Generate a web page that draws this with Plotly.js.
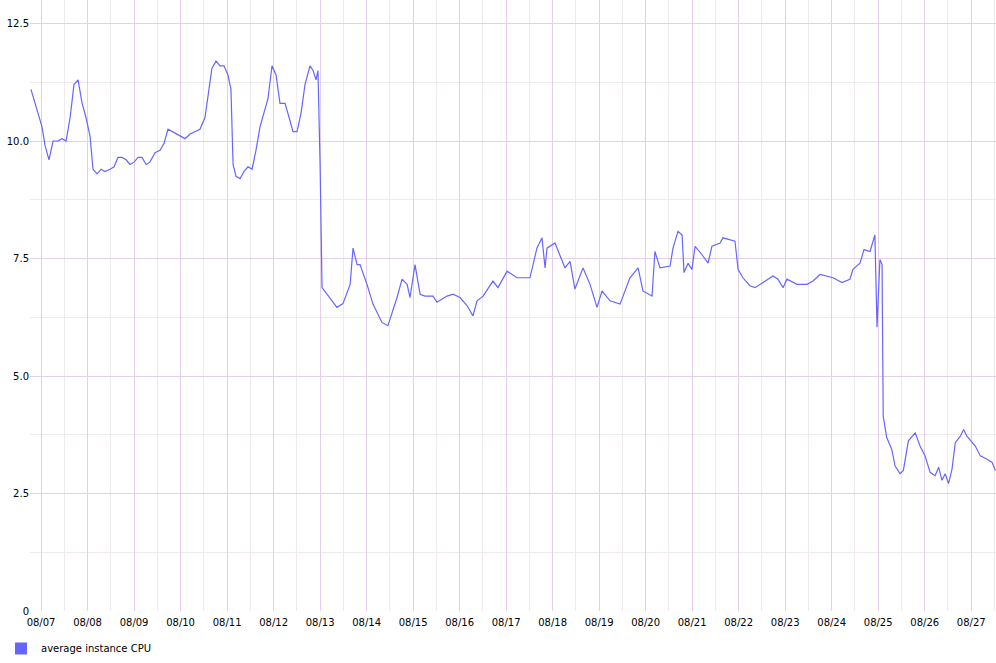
<!DOCTYPE html>
<html>
<head>
<script src="https://cdn.plot.ly/plotly-3.0.1.min.js"></script>
<style>body{margin:0;background:#fff}#chart{width:996px;height:663px}</style>
</head>
<body>
<div id="chart"></div>
<script>
// hours since 08/07 00:00 and average CPU values
const hours = [-5.2,-3.1,-1.5,0.5,2.1,4.1,6.2,8.8,10.8,12.9,15.0,17.0,19.1,21.2,23.2,25.3,26.8,28.9,31.0,33.0,35.6,37.7,39.7,41.8,43.9,45.9,48.0,50.1,52.1,54.2,56.2,58.8,61.4,63.5,65.5,67.6,69.7,71.7,74.3,76.9,79.5,82.0,84.6,86.2,88.2,90.3,92.4,94.4,96.5,98.0,99.1,100.6,102.7,104.7,106.8,108.9,110.9,113.0,115.1,117.1,119.2,121.3,123.3,125.9,128.0,130.0,132.1,134.2,136.2,138.8,140.4,141.9,142.9,144.0,145.0,147.6,152.7,155.8,159.5,161.0,163.1,164.6,168.2,171.3,175.9,179.0,183.7,186.3,188.9,190.4,193.0,195.6,198.1,202.3,204.3,209.5,212.6,216.2,219.8,222.9,225.0,228.1,233.2,235.8,240.5,245.6,252.3,255.9,258.5,260.1,261.1,265.2,267.8,270.4,273.0,275.5,279.7,283.3,286.9,289.5,293.6,298.8,303.9,308.1,310.6,313.2,315.3,316.8,319.4,324.6,326.1,328.7,330.8,331.8,333.9,335.9,337.5,341.1,344.2,346.2,350.4,351.9,358.1,359.7,362.2,365.8,368.4,372.6,377.7,380.3,382.9,384.9,390.1,395.3,398.4,402.0,408.7,413.3,417.4,419.0,422.6,424.7,427.8,430.3,431.4,432.9,434.0,434.6,436.4,439.0,440.7,443.3,445.0,447.6,451.1,453.6,456.2,458.8,461.4,463.2,464.9,466.6,468.3,470.1,471.8,474.4,476.1,477.8,480.4,482.1,484.7,488.2,490.8,492.5];
const cpu = [11.1,10.8,10.6,10.3,9.9,9.6,10.0,10.0,10.05,10.0,10.5,11.2,11.3,10.8,10.5,10.1,9.4,9.3,9.4,9.35,9.4,9.45,9.65,9.65,9.6,9.5,9.55,9.65,9.65,9.5,9.55,9.75,9.8,9.95,10.25,10.2,10.15,10.1,10.05,10.15,10.2,10.25,10.5,11.0,11.55,11.7,11.6,11.6,11.4,11.1,9.5,9.25,9.2,9.35,9.45,9.4,9.8,10.3,10.6,10.9,11.6,11.4,10.8,10.8,10.5,10.2,10.2,10.6,11.2,11.6,11.5,11.3,11.5,9.5,6.88,6.74,6.46,6.54,6.95,7.72,7.37,7.37,6.95,6.53,6.14,6.07,6.67,7.06,6.95,6.67,7.37,6.74,6.7,6.7,6.57,6.7,6.74,6.67,6.5,6.28,6.6,6.7,7.02,6.88,7.23,7.09,7.09,7.72,7.94,7.3,7.72,7.83,7.58,7.3,7.44,6.85,7.3,6.95,6.46,6.81,6.6,6.53,7.09,7.3,6.81,6.74,6.7,7.65,7.3,7.34,7.72,8.08,8.0,7.2,7.4,7.27,7.76,7.58,7.4,7.76,7.83,7.94,7.87,7.27,7.09,6.92,6.88,6.99,7.13,7.06,6.88,7.06,6.95,6.95,7.02,7.16,7.09,6.99,7.06,7.27,7.4,7.69,7.65,8.0,6.04,7.48,7.37,4.14,3.69,3.44,3.09,2.92,2.99,3.62,3.79,3.51,3.3,2.95,2.88,3.06,2.78,2.92,2.71,3.02,3.58,3.72,3.86,3.72,3.58,3.51,3.3,3.23,3.16,2.99];
const yTicks = [0, 2.5, 5, 7.5, 10, 12.5];
const yLabels = ['0', '2.5', '5.0', '7.5', '10.0', '12.5'];

const t0 = Date.UTC(2015, 7, 7);
const toDate = h => new Date(t0 + h * 3600e3).toISOString().slice(0, 19).replace('T', ' ');
const times = hours.map(toDate);

Plotly.newPlot('chart', [
  {
    x: times, y: cpu, type: 'scatter', mode: 'lines',
    line: { color: '#6666ff', width: 1.2 }, showlegend: false, hoverinfo: 'x+y'
  },
  {
    x: [null], y: [null], type: 'bar', name: 'average instance CPU',
    marker: { color: '#6666ff' }, showlegend: true
  }
], {
  width: 996, height: 663,
  margin: { l: 30, r: 0, t: 0, b: 42 },
  paper_bgcolor: '#fff', plot_bgcolor: '#fff',
  font: { family: 'DejaVu Sans', size: 10, color: '#000' },
  xaxis: {
    type: 'date',
    range: [toDate(-5.7), toDate(492.8)],
    tickformat: '%m/%d', dtick: 86400000, tick0: toDate(0),
    gridcolor: '#e3cfe8', gridwidth: 1, showline: false, zeroline: false,
    ticks: '', ticklen: 0, ticklabelstandoff: 4,
    minor: { dtick: 43200000, tick0: toDate(0), showgrid: true, gridcolor: '#eeeaee', gridwidth: 1 }
  },
  yaxis: {
    range: [0, 13], tickvals: yTicks, ticktext: yLabels,
    gridcolor: '#e3cfe8', zeroline: false, showline: false, ticks: '',
    minor: { dtick: 1.25, showgrid: true, gridcolor: '#eeeaee' }
  },
  legend: {
    x: -0.03, y: -0.038, xref: 'paper', yref: 'paper', xanchor: 'left', yanchor: 'top',
    orientation: 'h', font: { size: 10 }, bgcolor: 'rgba(0,0,0,0)', itemwidth: 30
  },
  bargap: 0
}, { displayModeBar: false });
</script>
</body>
</html>
